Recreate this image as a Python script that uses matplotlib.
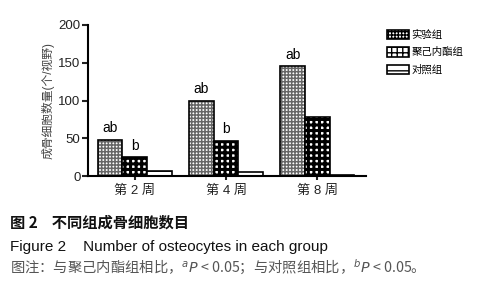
import numpy as np
import matplotlib.pyplot as plt
from matplotlib.patches import Patch

plt.rcParams['font.family'] = ['Liberation Sans', 'Noto Sans CJK SC']

weeks = ["第 2 周", "第 4 周", "第 8 周"]
groups = ["实验组", "聚己内酯组", "对照组"]
exp_vals = [48, 100, 145]
pcl_vals = [25, 47, 78]
ctrl_vals = [7, 6, 1]
marks_exp = ["ab", "ab", "ab"]
marks_pcl = ["b", "b", ""]

fig = plt.figure(figsize=(4.84, 3.0), dpi=100)
ax = fig.add_axes([0.182, 0.413, 0.574, 0.504])

x = np.arange(len(weeks))
w = 0.27
# hatch fill (hatch colour, hatch pattern, hatch linewidth)
fills = [("#666666", "+++++", 1.1), ("black", "+++", 2.2), ("black", "--", 1.5)]
series = [exp_vals, pcl_vals, ctrl_vals]
for i, (vals, (hc, hp, hlw)) in enumerate(zip(series, fills)):
    with plt.rc_context({"hatch.linewidth": hlw}):
        ax.bar(x + (i - 1) * w, vals, w, facecolor="white", edgecolor=hc,
               hatch=hp, linewidth=0)
    ax.bar(x + (i - 1) * w, vals, w, fill=False, edgecolor="black", linewidth=1.2)

for xi, v, m in zip(x - w, exp_vals, marks_exp):
    if m:
        ax.text(xi, v + 6, m, ha="center", va="bottom", fontsize=10)
for xi, v, m in zip(x, pcl_vals, marks_pcl):
    if m:
        ax.text(xi, v + 6, m, ha="center", va="bottom", fontsize=10)

ax.set_xlim(-0.51, 2.53)
ax.set_ylim(0, 200)
ax.set_yticks([0, 50, 100, 150, 200])
ax.set_xticks(x)
ax.set_xticklabels(weeks, fontsize=9.5, color="#222")
ax.tick_params(axis="y", labelsize=9.5, width=1.5, length=4, pad=1.5, colors="#222")
ax.tick_params(axis="x", width=1.5, length=3, colors="#222")
for s in ["top", "right"]:
    ax.spines[s].set_visible(False)
for s in ["left", "bottom"]:
    ax.spines[s].set_linewidth(1.5)
ax.set_ylabel("成骨细胞数量(个/视野)", fontsize=8.5, color="#444")
ax.yaxis.set_label_coords(-0.12, 0.5)

handles = []
for g, (hc, hp, hlw) in zip(groups, fills):
    with plt.rc_context({"hatch.linewidth": hlw}):
        handles.append(Patch(label=g, facecolor="white", edgecolor="black",
                             hatch=hp, linewidth=1.2))
fig.legend(handles=handles, loc="upper left", bbox_to_anchor=(0.79, 0.915),
           frameon=False, fontsize=7.5, handlelength=2.2, handleheight=1.0,
           handletextpad=0.2, labelspacing=0.7, borderaxespad=0)

fig.text(0.02, 0.257, "图 2    不同组成骨细胞数目", fontsize=11, fontweight="bold",
         family=['Noto Sans CJK SC'], va="center", color="#111")
fig.text(0.02, 0.177, "Figure 2    Number of osteocytes in each group", fontsize=11,
         va="center", color="#111")
fig.text(0.02, 0.11,
         "图注：与聚己内酯组相比，$^{a}$$P$ < 0.05；与对照组相比，$^{b}$$P$ < 0.05。",
         fontsize=10.3, color="#555", va="center",
         family=['Noto Sans CJK SC', 'DejaVu Sans'])

fig.savefig("out.png", dpi=100, facecolor="white")
